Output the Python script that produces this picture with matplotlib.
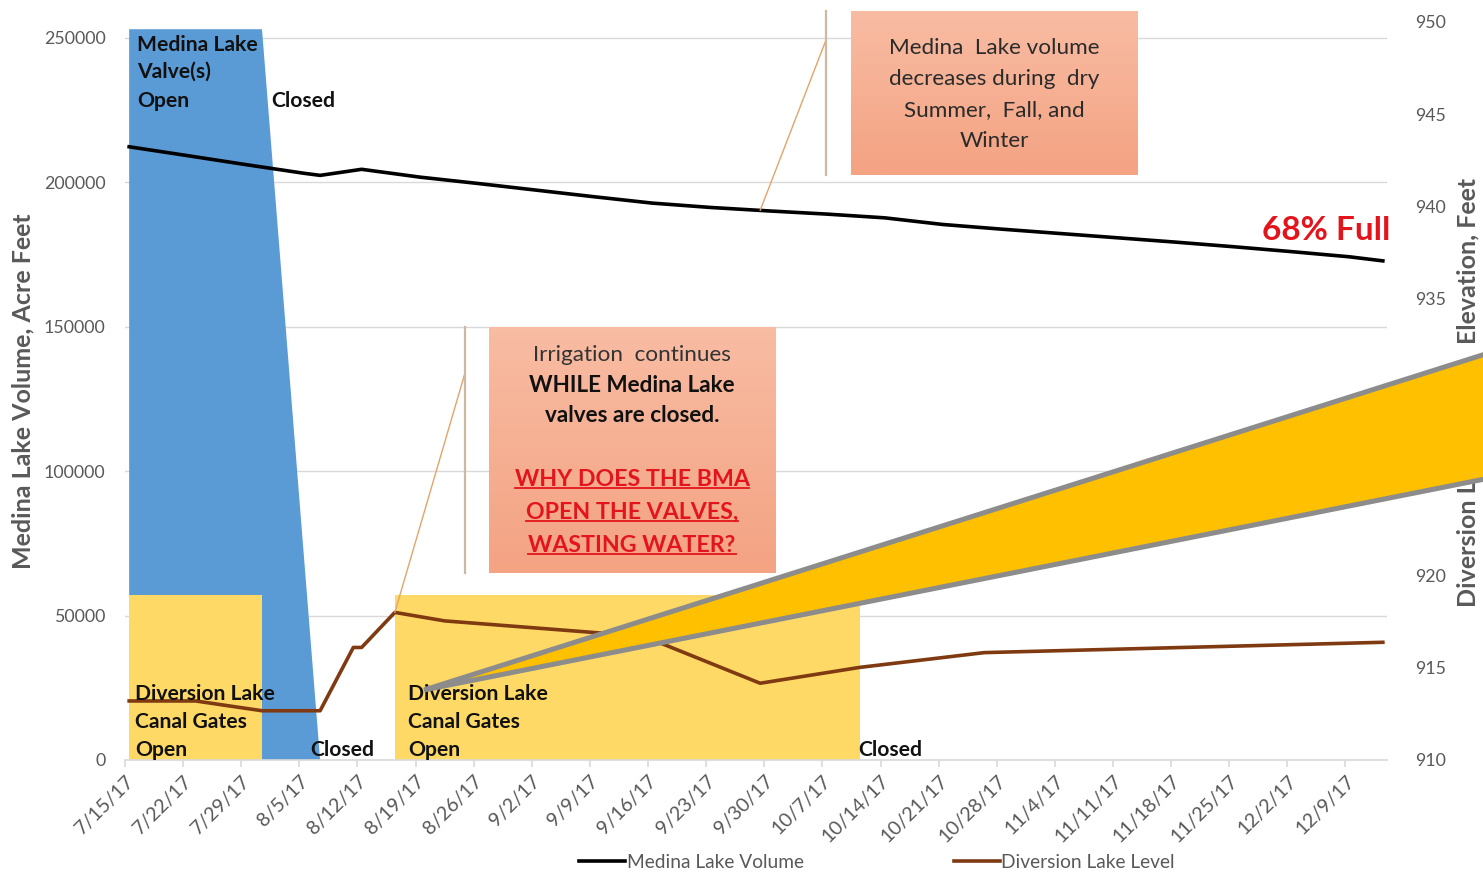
import matplotlib
matplotlib.use('Agg')
import matplotlib.pyplot as plt
import matplotlib.dates as mdates
import numpy as np
import pandas as pd
from matplotlib.patches import Polygon
from matplotlib.lines import Line2D
from matplotlib.colors import LinearSegmentedColormap

plt.rcParams['font.family'] = ['Lato', 'DejaVu Sans']

# ---------------- data ----------------
medina_dates = ['2017-07-15', '2017-07-22', '2017-07-29', '2017-08-05', '2017-08-07',
                '2017-08-12', '2017-08-19', '2017-08-26', '2017-09-02', '2017-09-09',
                '2017-09-16', '2017-09-23', '2017-09-30', '2017-10-07', '2017-10-14',
                '2017-10-21', '2017-10-28', '2017-11-04', '2017-11-11', '2017-11-18',
                '2017-11-25', '2017-12-02', '2017-12-09', '2017-12-13']
medina_volume = [212300, 209250, 206150, 203150, 202400,
                 204500, 201800, 199600, 197300, 195000,
                 192800, 191300, 190100, 189000, 187700,
                 185400, 183800, 182300, 180800, 179300,
                 177700, 176000, 174200, 172800]

diversion_dates = ['2017-07-15', '2017-07-23', '2017-07-31', '2017-08-07', '2017-08-11',
                   '2017-08-12', '2017-08-16', '2017-08-22', '2017-09-15', '2017-09-29',
                   '2017-10-11', '2017-10-26', '2017-12-13']
diversion_level = [913.2, 913.2, 912.67, 912.67, 916.1,
                   916.1, 918.0, 917.54, 916.7, 914.16,
                   915.02, 915.82, 916.38]

# Medina Lake valve(s) open period (shaded polygon)
valve_dates = ['2017-07-15', '2017-07-31', '2017-08-07', '2017-07-15']
valve_values = [253000, 253000, 0, 0]

# Diversion Lake canal gates open periods
gates_open_start = ['2017-07-15', '2017-08-16']
gates_open_end = ['2017-07-31', '2017-10-11']
gates_height = 57000

left_ticks = [0, 50000, 100000, 150000, 200000, 250000]
right_ticks = [910, 915, 920, 925, 930, 935, 940, 945, 950]
tick_dates = pd.date_range('2017-07-15', '2017-12-09', freq='7D')
tick_labels = [f"{d.month}/{d.day}/{d.year % 100}" for d in tick_dates]

series_labels = ['Medina Lake Volume', 'Diversion Lake Level']

# ---------------- styling ----------------
W, H = 1483, 873
BLUE = '#5B9BD5'
YELLOW = '#FFD966'
BROWN = '#7F3A12'
GRID = '#D9D9D9'
GRAYTXT = '#595959'
RED = '#E3141C'
DARK = '#111111'

half = pd.Timedelta(hours=12)   # Excel plots values between tick marks


def dn(lst):
    return mdates.date2num(pd.to_datetime(lst) + half)


fig = plt.figure(figsize=(W / 100, H / 100), dpi=100)
ax = fig.add_axes([125 / W, 1 - 760 / H, (1387 - 125) / W, (760 - 22) / H])
ax2 = ax.twinx()

# blue polygon (valves open)
ax.fill(dn(valve_dates), valve_values, color=BLUE, lw=0, zorder=1)
# yellow rects (gates open)
for s, e in zip(gates_open_start, gates_open_end):
    xs = dn([s, e])
    ax.fill_between(xs, 0, gates_height, color=YELLOW, lw=0, zorder=2)

ax.plot(dn(medina_dates), medina_volume, color='black', lw=2.6, zorder=3,
        solid_joinstyle='round')
ax2.plot(dn(diversion_dates), diversion_level, color=BROWN, lw=2.6, zorder=3,
         solid_joinstyle='round')

ax.set_xlim(mdates.date2num(pd.Timestamp('2017-07-15')),
            mdates.date2num(pd.Timestamp('2017-12-14')))
ax.set_ylim(0, 255500)
ax2.set_ylim(910, 950)

ax.set_yticks(left_ticks)
ax.set_yticklabels([str(v) for v in left_ticks])
ax2.set_yticks(right_ticks)
ax2.set_yticklabels([str(v) for v in right_ticks])
ax.set_xticks(mdates.date2num(tick_dates))
ax.set_xticklabels(tick_labels, rotation=45, ha='right', rotation_mode='anchor')

ax.set_axisbelow(True)
ax.grid(axis='y', color=GRID, lw=1)
ax.grid(axis='x', visible=False)
for a in (ax, ax2):
    for sp in a.spines.values():
        sp.set_visible(False)
ax.spines['bottom'].set_visible(True)
ax.spines['bottom'].set_color(GRID)
ax.spines['bottom'].set_linewidth(1.2)

ax.tick_params(axis='y', length=0, labelsize=12.8, labelcolor=GRAYTXT, pad=14)
ax2.tick_params(axis='y', length=0, labelsize=12.8, labelcolor=GRAYTXT, pad=20)
ax.tick_params(axis='x', length=5, color=GRID, width=1.2, labelsize=14.2,
               labelcolor=GRAYTXT, pad=4)

ax.set_ylabel('Medina Lake Volume, Acre Feet', fontsize=18, fontweight='bold',
              color=GRAYTXT, labelpad=7)


def fx(x):
    return x / W


def fy(y):
    return 1 - y / H


def t(x, y, s, **kw):
    kw.setdefault('va', 'center')
    return fig.text(fx(x), fy(y), s, **kw)


# right axis title (its middle is hidden under the big wedge, as in the original)
RLBL = dict(fontsize=18, fontweight='bold', color=GRAYTXT, rotation=90, ha='center')
t(1468, 607, 'Diversion Lake', va='bottom', **RLBL)
t(1468, 178, 'Elevation, Feet', va='top', **RLBL)

LBL = dict(fontsize=15.2, fontweight='bold', color=DARK)
t(137, 45, 'Medina Lake', **LBL)
t(137, 72, 'Valve(s)', **LBL)
t(137, 101, 'Open', **LBL)
t(271, 101, 'Closed', **LBL)
for x0 in (135, 408):
    t(x0, 694, 'Diversion Lake', **LBL)
    t(x0, 722, 'Canal Gates', **LBL)
    t(x0, 750, 'Open', **LBL)
t(310, 750, 'Closed', **LBL)
t(858, 750, 'Closed', **LBL)

t(1390, 231, '68% Full', fontsize=24, fontweight='bold', color=RED, ha='right')

# callout boxes with a soft vertical gradient
grad_cmap = LinearSegmentedColormap.from_list('salmon', ['#F8BCA3', '#F4A383'])
for (x0, y0, x1, y1) in ((851, 11, 1138, 175), (489, 327, 776, 573)):
    bax = fig.add_axes([fx(x0), fy(y1), (x1 - x0) / W, (y1 - y0) / H], zorder=5)
    bax.imshow(np.linspace(0, 1, 64).reshape(-1, 1), cmap=grad_cmap, aspect='auto',
               extent=(0, 1, 0, 1), origin='upper')
    bax.set_axis_off()

BOX1 = dict(fontsize=16.2, color='#2B2B2B', ha='center', zorder=6)
t(994, 48, 'Medina  Lake volume', **BOX1)
t(994, 79, 'decreases during  dry', **BOX1)
t(994, 110, 'Summer,  Fall, and', **BOX1)
t(994, 141, 'Winter', **BOX1)

t(632, 355, 'Irrigation  continues', fontsize=16.2, color='#333333', ha='center', zorder=6)
t(632, 386, 'WHILE Medina Lake', fontsize=16.2, fontweight='bold', color=DARK,
  ha='center', zorder=6)
t(632, 416, 'valves are closed.', fontsize=16.2, fontweight='bold', color=DARK,
  ha='center', zorder=6)
red_texts = []
for yy, s in ((479, 'WHY DOES THE BMA'), (512, 'OPEN THE VALVES,'), (545, 'WASTING WATER?')):
    red_texts.append(t(632, yy, s, fontsize=16.7, fontweight='bold', color=RED,
                       ha='center', zorder=6))

# callout leader lines
TAN = '#CDB9A3'
LEAD = '#E3A46A'
fig.add_artist(Line2D([fx(826), fx(826)], [fy(11), fy(175)], transform=fig.transFigure,
                      color=TAN, lw=1.6, zorder=5))
fig.add_artist(Line2D([fx(465), fx(465)], [fy(327), fy(573)], transform=fig.transFigure,
                      color=TAN, lw=1.6, zorder=5))

m_x = dn(medina_dates)
target1 = mdates.date2num(pd.Timestamp('2017-09-29') + half)
ax.annotate('', xy=(target1, np.interp(target1, m_x, medina_volume)), xycoords='data',
            xytext=(826, H - 40), textcoords='figure pixels',
            arrowprops=dict(arrowstyle='-', color=LEAD, lw=1.0, shrinkA=0, shrinkB=0),
            zorder=6, annotation_clip=False)
d_x = dn(diversion_dates)
imax = int(np.argmax(diversion_level))
ax2.annotate('', xy=(d_x[imax], diversion_level[imax]), xycoords='data',
             xytext=(465, H - 373), textcoords='figure pixels',
             arrowprops=dict(arrowstyle='-', color=LEAD, lw=1.0, shrinkA=0, shrinkB=0),
             zorder=6, annotation_clip=False)

# big yellow wedge
wedge = Polygon([(fx(424), fy(690)), (fx(1495), fy(351)), (fx(1495), fy(477))],
                closed=True, transform=fig.transFigure, facecolor='#FFC000',
                edgecolor='#8C8C8C', lw=3.6, joinstyle='miter', zorder=10)
fig.add_artist(wedge)

# legend
handles = [Line2D([], [], color='black', lw=2.6), Line2D([], [], color=BROWN, lw=2.6)]
leg = fig.legend(handles, series_labels, loc='center', bbox_to_anchor=(fx(877), fy(862)),
                 ncol=2, frameon=False, fontsize=13.8, handlelength=2.4,
                 handletextpad=0.1, columnspacing=7.8)
for tx in leg.get_texts():
    tx.set_color(GRAYTXT)

# underline red question
fig.canvas.draw()
r = fig.canvas.get_renderer()
for tx in red_texts:
    bb = tx.get_window_extent(r)
    yy = bb.y0 + 2
    fig.add_artist(Line2D([bb.x0 / W, bb.x1 / W], [yy / H, yy / H],
                          transform=fig.transFigure, color=RED, lw=1.3, zorder=6))

fig.savefig('out.png', dpi=100)
